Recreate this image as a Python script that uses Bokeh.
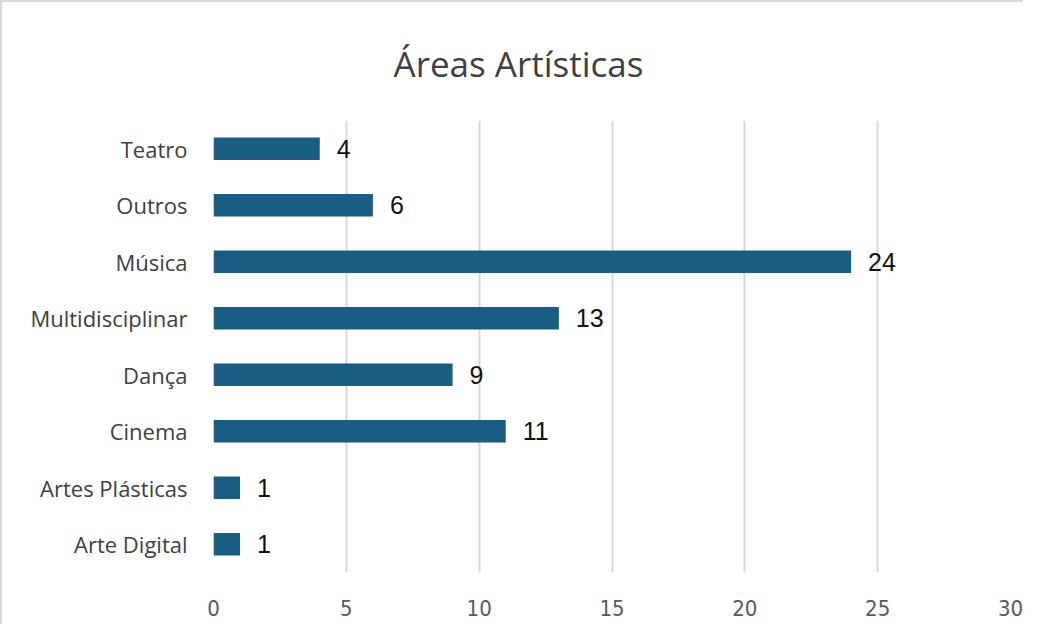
from bokeh.plotting import figure
from bokeh.models import ColumnDataSource, FactorRange, Range1d, FixedTicker, LabelSet, Title
from bokeh.core.properties import value
from bokeh.embed import file_html
from bokeh.resources import INLINE

categories = ["Arte Digital", "Artes Plásticas", "Cinema", "Dança",
              "Multidisciplinar", "Música", "Outros", "Teatro"]
counts = [1, 1, 11, 9, 13, 24, 6, 4]
x_ticks = [0, 5, 10, 15, 20, 25, 30]

src = ColumnDataSource(dict(cat=categories, val=counts, lab=[str(v) for v in counts]))

p = figure(width=1023, height=624, output_backend="svg", toolbar_location=None,
           y_range=FactorRange(factors=categories), x_range=Range1d(0, 30),
           min_border_left=211, min_border_right=15, min_border_top=118,
           min_border_bottom=54)
p.styles = {"border-top": "2px solid #d9d9d9", "border-left": "2px solid #d9d9d9"}

p.hbar(y="cat", right="val", left=0, height=0.4, source=src,
       fill_color="#1a5d82", line_color=None)

labels = LabelSet(x="val", y="cat", text="lab", source=src, x_offset=17,
                  text_align="left", text_baseline="middle",
                  text_font=value("Liberation Sans"), text_font_size=value("25px"),
                  text_color="#111111")
p.add_layout(labels)

t = Title(text="Áreas Artísticas", align="left", offset=180, standoff=68,
          text_font="Open Sans", text_font_size="35px", text_font_style="normal",
          text_color="#404040")
p.add_layout(t, "above")

p.outline_line_color = None
p.background_fill_color = "white"
p.border_fill_color = "white"

p.xgrid.ticker = FixedTicker(ticks=x_ticks)
p.xgrid.grid_line_color = "#d9d9d9"
p.xgrid.grid_line_width = 2
p.ygrid.grid_line_color = None

p.xaxis.ticker = FixedTicker(ticks=x_ticks)
p.xaxis.axis_line_color = None
p.xaxis.major_tick_line_color = None
p.xaxis.minor_tick_line_color = None
p.xaxis.major_label_standoff = 21
p.xaxis.major_label_text_font = "DejaVu Sans Condensed"
p.xaxis.major_label_text_font_size = "22px"
p.xaxis.major_label_text_color = "#595959"

p.yaxis.axis_line_color = None
p.yaxis.major_tick_line_color = None
p.yaxis.minor_tick_line_color = None
p.yaxis.major_label_standoff = 20
p.yaxis.major_label_text_font = "Open Sans"
p.yaxis.major_label_text_font_size = "22px"
p.yaxis.major_label_text_color = "#404040"

open("out.html", "w").write(file_html(p, INLINE))
